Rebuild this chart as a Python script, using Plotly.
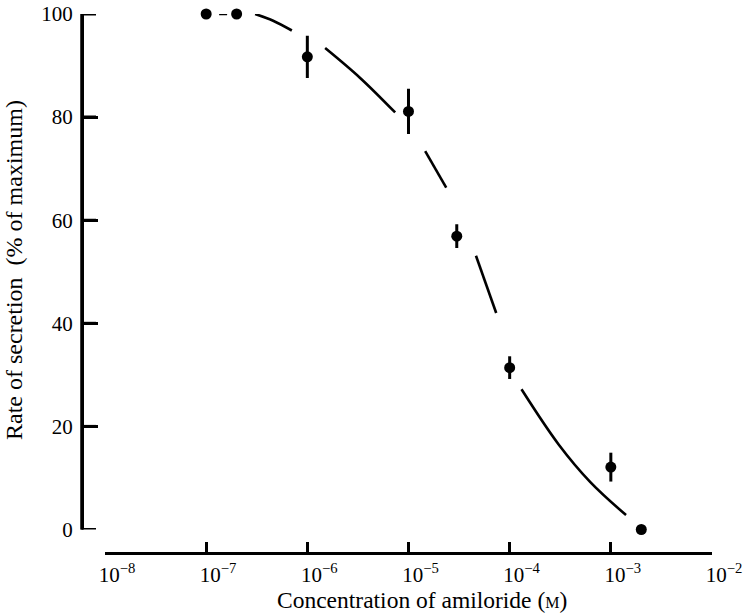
import plotly.graph_objects as go

# Measured points
conc = [1e-7, 2e-7, 1e-6, 1e-5, 3e-5, 1e-4, 1e-3, 2e-3]
rate = [100, 100, 91.7, 81.1, 56.9, 31.4, 12.1, 0]
err = [0, 0, 4.1, 4.4, 2.3, 2.2, 2.8, 0]

# Fitted curve (broken around the data points)
curve_x = [1.343e-7, 1.611e-7, None,
           3.048e-7, 4.592e-7, 7.03e-7, None,
           1.500e-6, 3.327e-6, 7.38e-6, None,
           1.462e-5, 2.36e-5, None,
           4.645e-5, 7.36e-5, None,
           1.309e-4, 3.048e-4, 6.27e-4, 1.413e-3]
curve_y = [100, 100, None,
           100, 98.7, 96.8, None,
           93.4, 87.6, 80.9, None,
           73.4, 66.3, None,
           53.1, 42.0, None,
           27.2, 16.5, 9.2, 2.8]

x_tickvals = [1e-8, 1e-7, 1e-6, 1e-5, 1e-4, 1e-3, 1e-2]
x_ticktext = ["10<sup>\u22128</sup>", "10<sup>\u22127</sup>", "10<sup>\u22126</sup>",
              "10<sup>\u22125</sup>", "10<sup>\u22124</sup>", "10<sup>\u22123</sup>",
              "10<sup>\u22122</sup>"]
y_tickvals = [0, 20, 40, 60, 80, 100]

FONT = "Liberation Serif, Times New Roman, serif"
Y_DOMAIN = [0.0436, 1]

fig = go.Figure()
fig.add_trace(go.Scatter(
    x=curve_x, y=curve_y, mode="lines",
    line=dict(color="black", width=2.6, shape="spline", smoothing=1.0),
    connectgaps=False, hoverinfo="skip", cliponaxis=False, showlegend=False))
fig.add_trace(go.Scatter(
    x=conc, y=rate, mode="markers",
    marker=dict(color="black", size=11),
    error_y=dict(type="data", array=err, visible=True, color="black",
                 thickness=3, width=0),
    cliponaxis=False, showlegend=False))

# free-anchored y axis line, drawn in paper coordinates (no axis clipping)
fig.add_shape(type="line", xref="paper", yref="paper",
              x0=0, x1=0, y0=Y_DOMAIN[0], y1=Y_DOMAIN[1],
              line=dict(color="black", width=3), layer="above")
fig.add_shape(type="rect", xref="paper", yref="paper",
              xsizemode="pixel", xanchor=0, x0=-1.5, x1=1.5,
              y0=Y_DOMAIN[0], y1=Y_DOMAIN[1],
              fillcolor="black", line=dict(width=0), layer="above")
# inward tick marks of the y axis, one per tick value
for tv in y_tickvals:
    fig.add_shape(type="rect", xref="paper", yref="y",
                  x0=0, x1=14 / 630,
                  ysizemode="pixel", yanchor=tv, y0=-1.5, y1=1.5,
                  fillcolor="black", line=dict(width=0), layer="above")

fig.update_layout(
    template="none",
    width=746, height=615,
    margin=dict(l=82, r=34, t=14, b=62, autoexpand=False),
    paper_bgcolor="white", plot_bgcolor="white",
    font=dict(family=FONT, color="black", size=21),
    xaxis=dict(
        type="log", range=[-8, -2], domain=[0.0365, 1],
        anchor="free", position=0, automargin=False,
        showline=True, linecolor="black", linewidth=3,
        ticks="inside", ticklen=10, tickwidth=3, tickcolor="black",
        tickvals=x_tickvals, ticktext=x_ticktext,
        ticklabelshift=12, ticklabelstandoff=2, ticklabeloverflow="allow",
        showgrid=False, zeroline=False,
        tickfont=dict(family=FONT, size=21, color="black")),
    yaxis=dict(
        range=[0, 100], domain=Y_DOMAIN,
        anchor="free", position=0, automargin=False, side="left",
        showline=True, linecolor="black", linewidth=3,
        ticks="inside", ticklen=14, tickwidth=3, tickcolor="black",
        tickvals=y_tickvals, ticklabelstandoff=4,
        ticklabeloverflow="allow",
        showgrid=False, zeroline=False,
        tickfont=dict(family=FONT, size=21, color="black")),
    annotations=[
        dict(text="Concentration of amiloride (<span style='font-size:16px'>M</span>)",
             xref="paper", yref="paper", x=0.54, y=-0.087,
             xanchor="center", yanchor="middle", showarrow=False,
             font=dict(family=FONT, size=23.5, color="black")),
        dict(text="Rate of secretion\u00a0\u00a0(% of maximum)",
             xref="paper", yref="paper", x=-0.108, y=0.525,
             xanchor="center", yanchor="middle", textangle=-90, showarrow=False,
             font=dict(family=FONT, size=24, color="black")),
    ],
)

# remove the default 8px page margin so the figure sits at the window's corner
fig.write_html("out.html", config={"displayModeBar": False},
               post_script="document.body.style.margin='0px';")
